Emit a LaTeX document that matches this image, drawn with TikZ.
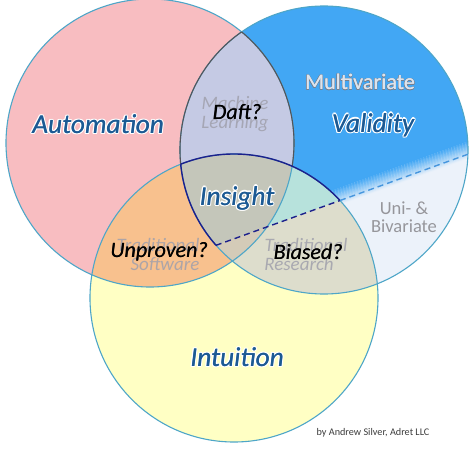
\documentclass[tikz,border=0pt]{standalone}
\usepackage{fontspec}
\setmainfont{Carlito}
\definecolor{circ}{RGB}{78,166,200}
\definecolor{pinkc}{RGB}{248,189,193}
\definecolor{bluec}{RGB}{66,167,244}
\definecolor{lightb}{RGB}{236,242,250}
\definecolor{yelc}{RGB}{255,255,196}
\definecolor{lav}{RGB}{197,202,228}
\definecolor{orng}{RGB}{248,193,142}
\definecolor{tealc}{RGB}{183,226,220}
\definecolor{beigec}{RGB}{221,221,204}
\definecolor{centc}{RGB}{196,198,186}
\definecolor{centlow}{RGB}{212,203,184}
\definecolor{navyc}{RGB}{28,32,140}
\definecolor{lensc}{RGB}{85,85,90}
\definecolor{dashb}{RGB}{70,150,222}
\definecolor{txtblue}{RGB}{28,90,148}
\definecolor{ghost}{RGB}{160,160,172}
\definecolor{multifill}{RGB}{220,228,238}
\definecolor{multiline}{RGB}{120,128,142}
\definecolor{unic}{RGB}{150,150,155}
\definecolor{credc}{RGB}{60,60,60}
\newlength\hl
% \halo[radius]{outline colour}{text colour}{text}
\newcommand\halo[4][1.3pt]{\setlength\hl{#1}\leavevmode\makebox[0pt][l]{\color{#2}%
\rlap{\hspace{\hl}#4}\rlap{\hspace{-\hl}#4}%
\rlap{\raisebox{\hl}{#4}}\rlap{\raisebox{-\hl}{#4}}%
\rlap{\hspace{0.7\hl}\raisebox{0.7\hl}{#4}}\rlap{\hspace{-0.7\hl}\raisebox{0.7\hl}{#4}}%
\rlap{\hspace{0.7\hl}\raisebox{-0.7\hl}{#4}}\rlap{\hspace{-0.7\hl}\raisebox{-0.7\hl}{#4}}}%
{\color{#3}\rlap{\hspace{0.3pt}#4}#4}}
\newcommand\heavy[1]{\leavevmode\rlap{\hspace{0.3pt}#1}#1}
\tikzset{
  ring/.style={draw=circ, line width=1.1pt},
  biglabel/.style={font=\fontsize{27.3}{29}\selectfont\itshape, inner sep=0pt},
  qlabel/.style={font=\fontsize{22}{24}\selectfont\itshape, text=black, inner sep=0pt},
  ghostlabel/.style={font=\fontsize{19}{19}\selectfont\itshape, text=ghost, text opacity=0.85, inner sep=0pt, align=center},
  dashpat/.style={line width=1.4pt, dash pattern=on 6pt off 4pt},
}
\begin{document}
\begin{tikzpicture}[x=1pt,y=1pt]
\useasboundingbox (0,0) rectangle (474,448);
\fill[white] (0,0) rectangle (474,448);
\def\rr{144}
\coordinate (cR) at (150,305);
\coordinate (cB) at (324,298);
\coordinate (cY) at (234,150);
\def\above{(0,124.6) -- (474,295.9) -- (474,448) -- (0,448) -- cycle}
\def\below{(0,124.6) -- (474,295.9) -- (474,0) -- (0,0) -- cycle}
% single circles
\fill[pinkc] (cR) circle[radius=\rr];
\begin{scope}
  \clip (cB) circle[radius=\rr];
  \fill[lightb] (cB) circle[radius=\rr];
  \begin{scope}[shift={(217,203)}, rotate=19.87]
    \fill[bluec] (-300,12) rectangle (400,300);
    \foreach \i in {0,...,15}{
      \pgfmathsetmacro\pct{100*(\i+0.5)/16}
      \fill[bluec!\pct!lightb] (-300,-4+\i) rectangle (400,-2.9+\i);
    }
  \end{scope}
\end{scope}
\fill[yelc] (cY) circle[radius=\rr];
% overlaps
\begin{scope}
  \clip (cR) circle[radius=\rr];
  \fill[lav] (cB) circle[radius=\rr];
  \fill[orng] (cY) circle[radius=\rr];
\end{scope}
\begin{scope}
  \clip (cB) circle[radius=\rr];
  \clip (cY) circle[radius=\rr];
  \fill[tealc] \above;
  \fill[beigec] \below;
  \clip (cR) circle[radius=\rr];
  \fill[centc] \above;
  \fill[centlow] \below;
\end{scope}
% outlines
\draw[ring] (cR) circle[radius=\rr];
\draw[ring] (cB) circle[radius=\rr];
\draw[ring] (cY) circle[radius=\rr];
% lens outline
\begin{scope}[even odd rule]
  \clip (0,0) rectangle (474,448) (cY) circle[radius=\rr];
  \begin{scope}
    \clip (cB) circle[radius=\rr];
    \draw[lensc, line width=1.1pt] (cR) circle[radius=\rr];
  \end{scope}
  \begin{scope}
    \clip (cR) circle[radius=\rr];
    \draw[lensc, line width=1.1pt] (cB) circle[radius=\rr];
  \end{scope}
\end{scope}
% navy outline of upper B-Y region
\begin{scope}
  \clip \above;
  \begin{scope}
    \clip (cB) circle[radius=\rr];
    \draw[navyc, line width=1.4pt] (cY) circle[radius=\rr];
  \end{scope}
  \begin{scope}
    \clip (cY) circle[radius=\rr];
    \draw[navyc, line width=1.4pt] (cB) circle[radius=\rr];
  \end{scope}
\end{scope}
% dashed divider
\coordinate (d1) at (215.8,202.6);
\coordinate (d2) at (340,247.5);
\coordinate (d3) at (468,293.8);
\draw[navyc, dashpat] (d1) -- (d2);
\draw[dashb, dashpat] (d2) -- (d3);
% ghost labels
\node[ghostlabel] (ml) at (235,334) {Machine\\[0pt]Learning};
\node[ghostlabel] (ts) at (158,194) {Traditional\\[0pt]\hspace*{14pt}Software};
\node[ghostlabel] (tr) at (306,194) {Traditional\\[0pt]Research\hspace*{14pt}};
% main labels
\node[biglabel] (auto) at (98,324) {\halo{white}{txtblue}{Automation}};
\node[biglabel] (vali) at (373,323) {\halo{white}{txtblue}{Validity}};
\node[biglabel] (insi) at (237,250) {\halo{white}{txtblue}{Insight}};
\node[biglabel] (intu) at (237,91) {\halo{white}{txtblue}{Intuition}};
\node[inner sep=0pt, font=\fontsize{22.2}{22}\selectfont] (multi) at (360,366) {\halo[0.6pt]{multiline}{multifill}{Multivariate}};
\node[qlabel] (daft) at (237,336) {\heavy{Daft?}};
\node[qlabel] (unpr) at (159,196) {\heavy{Unproven?}};
\node[qlabel] (bias) at (308,196) {\heavy{Biased?}};
\node[inner sep=0pt, font=\fontsize{18.5}{18}\selectfont, text=unic, align=center] (uni) at (404,231) {Uni- \&\\Bivariate};
\node[inner sep=0pt, font=\fontsize{10.2}{11}\selectfont, text=credc] (cred) at (373,15) {by Andrew Silver, Adret LLC};
\end{tikzpicture}
\end{document}
